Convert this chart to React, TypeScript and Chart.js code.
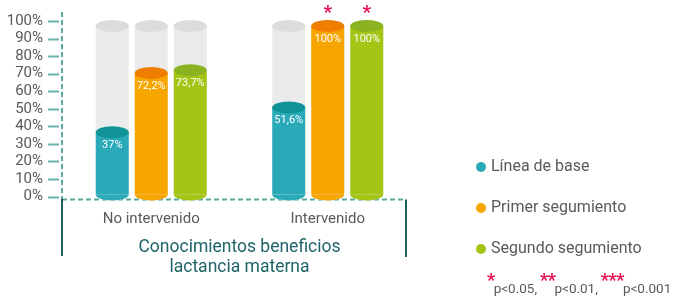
import React, { useEffect, useRef } from "react";
import { Chart, registerables } from "chart.js";

Chart.register(...registerables);

const categories = ["No intervenido", "Intervenido"];
const seriesNames = ["Línea de base", "Primer segumiento", "Segundo segumiento"];
const baseline = [37, 51.6];
const firstFollowUp = [72.2, 100];
const secondFollowUp = [73.7, 100];
const baselineLabels = ["37%", "51,6%"];
const firstLabels = ["72,2%", "100%"];
const secondLabels = ["73,7%", "100%"];
const baselineSig = ["", ""];
const firstSig = ["", "*"];
const secondSig = ["", "*"];
const axisTitle = ["Conocimientos beneficios", "lactancia materna"];
const pStars = ["*", "**", "***"];
const pTexts = ["p<0.05,", "p<0.01,", "p<0.001"];

const bodyColors = ["#2aa9b8", "#f7a600", "#a3c516"];
const topColors = ["#0f9397", "#ee7d00", "#8bb321"];
const seriesValues = [baseline, firstFollowUp, secondFollowUp];
const seriesLabels = [baselineLabels, firstLabels, secondLabels];
const seriesSig = [baselineSig, firstSig, secondSig];

const SANS = "Roboto, 'Liberation Sans', sans-serif";
const RED = "#e3134e";
const TEAL_DASH = "#5aaa9f";
const FRAME = "#1c5e63";
const GREY_TEXT = "#5a5a5a";

const decorPlugin = {
  id: "decor",
  afterDatasetsDraw(chart: any) {
    const { ctx, chartArea } = chart;
    const y2 = chart.scales.y2;
    const yScale = chart.scales.y;
    ctx.save();

    // axis lines
    ctx.strokeStyle = TEAL_DASH;
    ctx.lineWidth = 2;
    ctx.setLineDash([5, 3]);
    const axX = chartArea.left - 1;
    ctx.beginPath();
    ctx.moveTo(axX, 12);
    ctx.lineTo(axX, chartArea.bottom + 2);
    ctx.stroke();
    ctx.beginPath();
    ctx.moveTo(axX, chartArea.bottom + 3);
    ctx.lineTo(chartArea.right - 10, chartArea.bottom + 3);
    ctx.stroke();
    ctx.setLineDash([]);

    // tick marks
    ctx.strokeStyle = "#6bb3a8";
    yScale.ticks.forEach((_t: any, i: number) => {
      const py = Math.round(yScale.getPixelForTick(i)) + 0.5;
      ctx.beginPath();
      ctx.moveTo(48, py);
      ctx.lineTo(59, py);
      ctx.stroke();
    });

    // frame lines
    ctx.strokeStyle = FRAME;
    ctx.lineWidth = 2;
    ctx.beginPath();
    ctx.moveTo(axX, chartArea.bottom + 2);
    ctx.lineTo(axX, 256);
    ctx.moveTo(chartArea.right - 10, chartArea.bottom + 3);
    ctx.lineTo(chartArea.right - 10, 257);
    ctx.stroke();

    // cylinders
    const ry = 6;
    const top100 = y2.getPixelForValue(100);
    seriesValues.forEach((_vals, di) => {
      const meta = chart.getDatasetMeta(di);
      meta.data.forEach((el: any, j: number) => {
        const { x, y, base, width } = el.getProps(["x", "y", "base", "width"], true);
        const rx = width / 2;
        // background cylinder
        ctx.fillStyle = "#ebebeb";
        ctx.beginPath();
        ctx.rect(x - rx, top100, width, base - top100);
        ctx.fill();
        ctx.beginPath();
        ctx.ellipse(x, base, rx, ry, 0, 0, Math.PI);
        ctx.fill();
        ctx.fillStyle = "#dcdcdc";
        ctx.beginPath();
        ctx.ellipse(x, top100, rx, ry, 0, 0, Math.PI * 2);
        ctx.fill();
        // value cylinder
        ctx.fillStyle = bodyColors[di];
        ctx.beginPath();
        ctx.rect(x - rx, y, width, base - y);
        ctx.fill();
        ctx.beginPath();
        ctx.ellipse(x, base, rx, ry, 0, 0, Math.PI);
        ctx.fill();
        ctx.fillStyle = topColors[di];
        ctx.beginPath();
        ctx.ellipse(x, y, rx, ry, 0, 0, Math.PI * 2);
        ctx.fill();
        // value label
        ctx.fillStyle = "#ffffff";
        ctx.font = `11px ${SANS}`;
        ctx.textAlign = "center";
        ctx.textBaseline = "middle";
        ctx.fillText(seriesLabels[di][j], x, y + 13);
        // significance
        const sig = seriesSig[di][j];
        if (sig) {
          ctx.fillStyle = RED;
          ctx.font = `bold 19px ${SANS}`;
          ctx.textBaseline = "alphabetic";
          ctx.fillText(sig, x, 18);
        }
      });
    });

    // legend
    ctx.textAlign = "left";
    ctx.textBaseline = "middle";
    seriesNames.forEach((name, i) => {
      const ly = 167 + i * 41;
      ctx.fillStyle = bodyColors[i];
      ctx.beginPath();
      ctx.arc(481, ly, 5, 0, Math.PI * 2);
      ctx.fill();
      ctx.fillStyle = GREY_TEXT;
      ctx.font = `16px ${SANS}`;
      ctx.fillText(name, 491, ly);
    });

    // p-value footnote
    let px = 487;
    ctx.textBaseline = "alphabetic";
    pStars.forEach((s, i) => {
      ctx.fillStyle = RED;
      ctx.font = `bold 18px ${SANS}`;
      for (const ch of s) {
        ctx.fillText(ch, px, 286);
        px += ctx.measureText(ch).width - 0.5;
      }
      ctx.fillStyle = GREY_TEXT;
      ctx.font = `13.5px ${SANS}`;
      ctx.fillText(pTexts[i], px - 1, 293);
      px += ctx.measureText(pTexts[i]).width + 2;
    });

    ctx.restore();
  },
};

export default function App() {
  const ref = useRef<HTMLCanvasElement | null>(null);
  useEffect(() => {
    if (!ref.current) return;
    const chart = new Chart(ref.current, {
      type: "bar",
      data: {
        labels: categories,
        datasets: seriesValues.map((vals, i) => ({
          label: seriesNames[i],
          data: vals,
          yAxisID: "y2",
          backgroundColor: "rgba(0,0,0,0)",
          borderWidth: 0,
          categoryPercentage: 0.663,
          barPercentage: 0.846,
        })),
      },
      options: {
        animation: false,
        responsive: false,
        maintainAspectRatio: false,
        layout: { padding: { top: 21, right: 259, left: 0, bottom: 0 } },
        plugins: { legend: { display: false }, tooltip: { enabled: false } },
        scales: {
          x: {
            grid: { display: false, drawTicks: false },
            border: { display: false },
            ticks: { color: GREY_TEXT, font: { size: 15, family: SANS }, padding: 14 },
            title: {
              display: true,
              text: axisTitle,
              color: "#1e6468",
              font: { size: 17.5, family: SANS, lineHeight: 1.17 },
              padding: { top: 0, bottom: 19 },
            },
            afterFit: (s: any) => {
              s.height = 100.5;
              s.paddingLeft = 0;
              s.paddingRight = 0;
            },
          },
          y: {
            min: 0,
            max: 100,
            ticks: {
              stepSize: 10,
              autoSkip: false,
              callback: (v: any) => `${v}%`,
              padding: 20,
              color: GREY_TEXT,
              font: { size: 15, family: SANS },
            },
            grid: { display: false, drawTicks: false },
            border: { display: false },
            afterFit: (s: any) => {
              s.width = 63;
              s.paddingTop = 0;
              s.paddingBottom = 0;
            },
          },
          y2: { display: false, min: -1.2, max: 103 },
        },
      },
      plugins: [decorPlugin],
    });
    return () => chart.destroy();
  }, []);
  return (
    <div style={{ position: "fixed", left: 0, top: 0, width: 675, height: 297, background: "#fff" }}>
      <canvas ref={ref} width={675} height={297} style={{ width: 675, height: 297, display: "block" }} />
    </div>
  );
}
